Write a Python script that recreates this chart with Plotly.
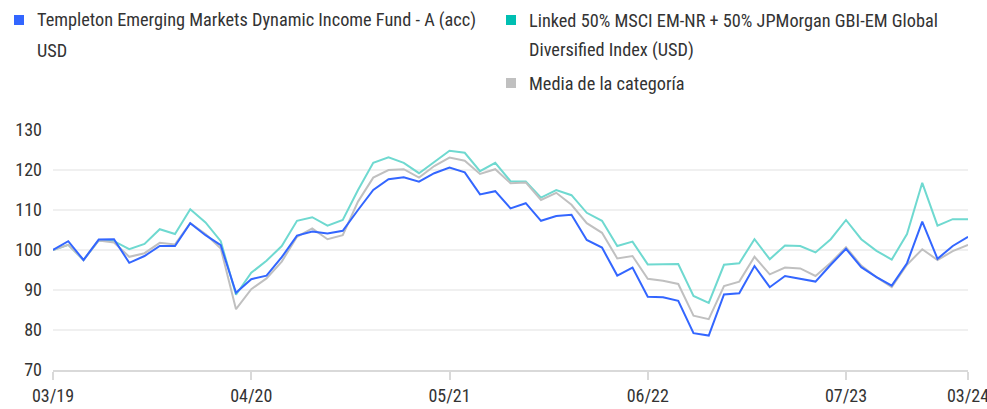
import plotly.graph_objects as go
import pandas as pd

months = pd.date_range("2019-03-01", periods=61, freq="MS").strftime("%m/%y").tolist()

series_names = [
    "Templeton Emerging Markets Dynamic Income Fund - A (acc) USD",
    "Linked 50% MSCI EM-NR + 50% JPMorgan GBI-EM Global Diversified Index (USD)",
    "Media de la categoría",
]
# legend labels as displayed (wrapped)
legend_lines = [
    ["Templeton Emerging Markets Dynamic Income Fund - A (acc)", "USD"],
    ["Linked 50% MSCI EM-NR + 50% JPMorgan GBI-EM Global", "Diversified Index (USD)"],
    ["Media de la categoría"],
]

fund = [100, 102.2, 97.5, 102.6, 102.7, 96.8, 98.5, 101, 101, 106.7,
        103.7, 101.2, 89.3, 92.7, 93.6, 98.2, 103.6, 104.6, 104.1, 104.8,
        110, 115, 117.7, 118.2, 117.1, 119.2, 120.6, 119.4, 113.9, 114.7,
        110.4, 111.7, 107.3, 108.5, 108.8, 102.5, 100.6, 93.6, 95.6, 88.3,
        88.2, 87.3, 79.2, 78.6, 88.9, 89.2, 96, 90.7, 93.5, 92.8,
        92.1, 96.3, 100.3, 95.7, 93.2, 91.1, 96.7, 107.1, 97.8, 101,
        103.3]

index = [100, 101.3, 97.5, 102.4, 102.2, 100.2, 101.5, 105.2, 104, 110.2,
         106.9, 102.2, 88.8, 94.3, 97.3, 101, 107.3, 108.2, 106.1, 107.5,
         115, 121.8, 123.2, 121.8, 119.2, 122.1, 124.8, 124.3, 119.7, 121.8,
         117.2, 117.1, 113.1, 115, 113.7, 109.3, 107.3, 101, 102.1, 96.4,
         96.4, 96.5, 88.5, 86.8, 96.3, 96.7, 102.7, 97.7, 101.1, 101,
         99.4, 102.7, 107.5, 102.7, 99.8, 97.6, 104, 116.8, 106.1, 107.7,
         107.7]

category = [100, 101.3, 97.5, 102.4, 101.9, 98.3, 99.2, 101.8, 101.4, 106.7,
            104, 100.4, 85.2, 90.2, 92.9, 97.1, 103.3, 105.4, 102.7, 103.7,
            112.1, 118.1, 120, 120.2, 118.1, 121, 123.1, 122.3, 119, 120.2,
            116.7, 116.9, 112.5, 114.3, 111.3, 106.7, 104.3, 97.9, 98.5, 92.8,
            92.3, 91.5, 83.6, 82.7, 91, 92.1, 98.3, 93.9, 95.6, 95.4,
            93.5, 96.8, 100.7, 96.1, 93.2, 90.7, 96.3, 100.2, 97.5, 99.7,
            101.3]

x_tick_labels = ["03/19", "04/20", "05/21", "06/22", "07/23", "03/24"]
y_ticks = [70, 80, 90, 100, 110, 120, 130]

BLUE = "#3366ff"
TEAL_SQ = "#00bfb2"
TEAL_LINE = "#6fd9d0"
GREY = "#c0c0c0"
TEXT = "#333333"
FONT = "Liberation Sans Narrow, Roboto Condensed, Roboto, Arial, sans-serif"

W, H = 987, 409
ML, MR, MT, MB = 53, 19, 130, 39
PW, PH = W - ML - MR, H - MT - MB


def px_x(px):  # page pixel -> paper x
    return (px - ML) / PW


def px_y(py):  # page pixel -> paper y
    return (H - MB - py) / PH


fig = go.Figure()
fig.add_trace(go.Scatter(x=months, y=index, mode="lines", line=dict(color=TEAL_LINE, width=2),
                         showlegend=False, name=series_names[1]))
fig.add_trace(go.Scatter(x=months, y=category, mode="lines", line=dict(color=GREY, width=2),
                         showlegend=False, name=series_names[2]))
fig.add_trace(go.Scatter(x=months, y=fund, mode="lines", line=dict(color=BLUE, width=2),
                         showlegend=False, name=series_names[0]))

# legend drawn as squares + text (wrapped in two columns like the reference)
legend_pos = [(14, 20), (506, 20), (506, 83)]  # (square left px, first-line centre px)
legend_colors = [BLUE, TEAL_SQ, GREY]
shapes = []
annotations = []
for (sx, sy), col, lines in zip(legend_pos, legend_colors, legend_lines):
    shapes.append(dict(type="rect", xref="paper", yref="paper",
                       x0=px_x(sx), x1=px_x(sx + 10), y0=px_y(sy - 5), y1=px_y(sy + 5),
                       fillcolor=col, line=dict(width=0)))
    for k, t in enumerate(lines):
        annotations.append(dict(xref="paper", yref="paper", x=px_x(sx + 21), y=px_y(sy + 30 * k),
                                xanchor="left", yanchor="middle", text=t, showarrow=False,
                                font=dict(family=FONT, size=18.3, color=TEXT)))

fig.update_layout(
    width=W, height=H,
    margin=dict(l=ML, r=MR, t=MT, b=MB, autoexpand=False),
    paper_bgcolor="white", plot_bgcolor="white",
    font=dict(family=FONT, size=18, color=TEXT),
    showlegend=False,
    shapes=shapes,
    annotations=annotations,
    xaxis=dict(type="category", range=[0, 60], tickmode="array", tickvals=x_tick_labels,
               ticktext=x_tick_labels, showgrid=False, zeroline=False, automargin=False,
               showline=True, linecolor="#d9d9d9", linewidth=2,
               ticks="outside", ticklen=8, tickwidth=2, tickcolor="#d9d9d9",
               tickfont=dict(family=FONT, size=18, color=TEXT)),
    yaxis=dict(range=[70, 130], tickmode="array", tickvals=y_ticks, automargin=False,
               showgrid=True, gridcolor="#f0f0f0", gridwidth=2, zeroline=False,
               showline=False, ticks="", ticklabelstandoff=10,
               tickfont=dict(family=FONT, size=18, color=TEXT)),
    hovermode=False,
)

fig.write_html("out.html",
               config={"displayModeBar": False, "staticPlot": True},
               post_script="document.body.style.margin='0';document.body.style.overflow='hidden';")
